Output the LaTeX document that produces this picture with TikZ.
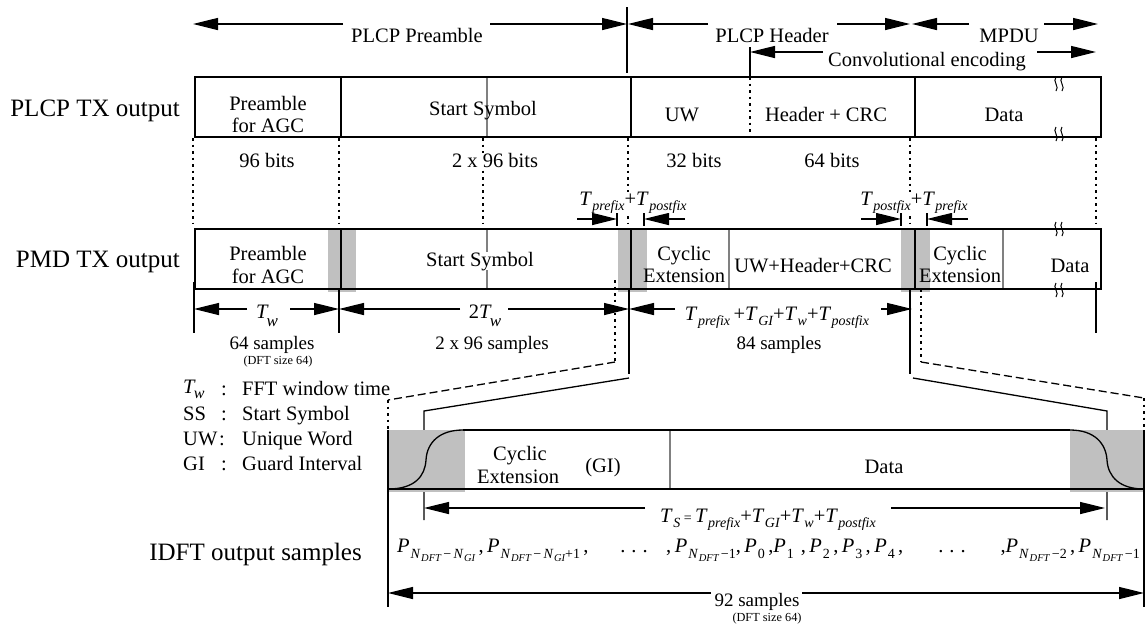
\documentclass[tikz,border=0pt]{standalone}
\usepackage{fontspec}
\setmainfont{Liberation Serif}
\usetikzlibrary{arrows.meta}
\definecolor{shadegray}{HTML}{C0C0C0}
\definecolor{divg}{HTML}{808080}
\newcommand\subl[1]{\raisebox{-5pt}{\fontsize{14}{14}\selectfont\itshape #1}}
\newcommand\ssubl[1]{\raisebox{-3pt}{\fontsize{10.5}{10.5}\selectfont\itshape #1}}
\newcommand\Tx[1]{\textit{T}\kern0.5pt\subl{#1}}
\newcommand\Tww{\textit{T}\kern-2pt\raisebox{-8pt}{\fontsize{17}{17}\selectfont\itshape w}}
\newcommand\Twl{\textit{T}\kern-2pt\raisebox{-5pt}{\fontsize{16}{16}\selectfont\itshape w}}
\newcommand\Pn[1]{\textit{P}\kern1pt\raisebox{-6pt}{\fontsize{14}{14}\selectfont #1}}
\newcommand\NDft{\textit{N}\kern0.5pt\ssubl{DFT}}
\newcommand\NGi{\textit{N}\kern0.5pt\ssubl{GI}}
\begin{document}
\begin{tikzpicture}[x=1pt,y=-1pt,
  txt/.style={font=\fontsize{20.5}{23}\selectfont, inner sep=0pt, anchor=base},
  smp/.style={font=\fontsize{19}{22}\selectfont, inner sep=0pt, anchor=base},
  big/.style={font=\fontsize{25}{28}\selectfont, inner sep=0pt, anchor=base east},
  small/.style={font=\fontsize{12.3}{14}\selectfont, inner sep=0pt, anchor=base},
  arr/.style={-{Triangle[length=25pt,width=12pt]}, line width=1.3pt},
  ln/.style={line width=1.3pt},
  boxl/.style={line width=1.6pt},
  gdiv/.style={line width=1.8pt, draw=divg},
  dotl/.style={line width=1.3pt, dash pattern=on 2.5pt off 4pt},
  dashl/.style={line width=1.3pt, dash pattern=on 8pt off 4pt},
  grayfill/.style={fill=shadegray, draw=none},
  brkm/.pic={\draw[line width=1pt] (-4,-7) .. controls (-8,-3) and (0,3) .. (-4,7);
             \draw[line width=1pt] (2,-7) .. controls (-2,-3) and (6,3) .. (2,7);}]
\useasboundingbox (0,0) rectangle (1146,625);

% ---------- top arrows ----------
\coordinate (pA) at (193,24); \coordinate (pAg) at (343,24);
\coordinate (pBg) at (490,24); \coordinate (pB) at (627,24);
\draw[arr] (pAg) -- (pA); \draw[arr] (pBg) -- (pB);
\node[txt] (tPre) at (417,42) {PLCP Preamble};
\coordinate (vT) at (627,7); \coordinate (vB) at (627,73);
\draw[ln] (vT) -- (vB);
\coordinate (hA) at (628,24); \coordinate (hAg) at (708,24);
\coordinate (hBg) at (837,24); \coordinate (hB) at (910,24);
\draw[arr] (hAg) -- (hA); \draw[arr] (hBg) -- (hB);
\node[txt] (tHdr) at (772,42) {PLCP Header};
\coordinate (mA) at (912,24); \coordinate (mAg) at (969,24);
\coordinate (mBg) at (1044,24); \coordinate (mB) at (1098,24);
\draw[arr] (mAg) -- (mA); \draw[arr] (mBg) -- (mB);
\node[txt] (tMpdu) at (1009,42) {MPDU};
\coordinate (cA) at (750,52); \coordinate (cAg) at (823,52);
\coordinate (cBg) at (1037,52); \coordinate (cB) at (1096,52);
\coordinate (cT) at (750,47); \coordinate (cTb) at (750,77);
\draw[arr] (cAg) -- (cA); \draw[arr] (cBg) -- (cB); \draw[ln] (cT) -- (cTb);
\node[txt] (tConv) at (927,66) {Convolutional encoding};

% ---------- PLCP TX output ----------
\node[big] (lPlcp) at (180,116) {PLCP TX output};
\coordinate (g1t) at (487,77); \coordinate (g1b) at (487,138);
\draw[gdiv] (g1t) -- (g1b);
\coordinate (P1nw) at (195,77); \coordinate (P1se) at (1101,137);
\draw[boxl] (P1nw) rectangle (P1se);
\coordinate (d1t) at (341,77); \coordinate (d1b) at (341,137);
\coordinate (d2t) at (631,77); \coordinate (d2b) at (631,137);
\coordinate (d3t) at (915,77); \coordinate (d3b) at (915,137);
\draw[boxl] (d1t) -- (d1b); \draw[boxl] (d2t) -- (d2b); \draw[boxl] (d3t) -- (d3b);
\coordinate (d4t) at (750,77); \coordinate (d4b) at (750,137);
\draw[dotl] (d4t) -- (d4b);
\pic at (1060,84) {brkm}; \pic at (1060,134) {brkm};
\node[txt] (a1) at (268,110) {Preamble};
\node[txt] (a2) at (268,132) {for AGC};
\node[txt] (a3) at (483,115) {Start Symbol};
\node[txt] (a4) at (682,121) {UW};
\node[txt] (a5) at (826,121) {Header + CRC};
\node[txt] (a6) at (1004,121) {Data};
\foreach \x/\n in {193/q1,339/q2,483/q3,628/q4,910/q5,1096/q6}{
  \coordinate (\n t) at (\x,138); \coordinate (\n b) at (\x,223);
  \draw[dotl] (\n t) -- (\n b);}
\node[txt] (b1) at (267,167) {96 bits};
\node[txt, fill=white] (b2) at (495,167) {2 x 96 bits};
\node[txt] (b3) at (694,167) {32 bits};
\node[txt] (b4) at (832,167) {64 bits};

% ---------- small arrows above PMD ----------
\coordinate (s1a) at (577,219); \coordinate (s1b) at (617,219);
\coordinate (s2a) at (685,219); \coordinate (s2b) at (644,219);
\draw[arr] (s1a) -- (s1b); \draw[arr] (s2a) -- (s2b);
\coordinate (k1t) at (617,212); \coordinate (k1b) at (617,226);
\coordinate (k2t) at (644,212); \coordinate (k2b) at (644,226);
\draw[ln] (k1t) -- (k1b); \draw[ln] (k2t) -- (k2b);
\node[txt, fill=white] (tpp1) at (633,205) {\Tx{prefix}+\Tx{postfix}};
\coordinate (t1a) at (861,219); \coordinate (t1b) at (901,219);
\coordinate (t2a) at (968,219); \coordinate (t2b) at (927,219);
\draw[arr] (t1a) -- (t1b); \draw[arr] (t2a) -- (t2b);
\coordinate (k3t) at (901,212); \coordinate (k3b) at (901,226);
\coordinate (k4t) at (927,212); \coordinate (k4b) at (927,226);
\draw[ln] (k3t) -- (k3b); \draw[ln] (k4t) -- (k4b);
\node[txt, fill=white] (tpp2) at (914,205) {\Tx{postfix}+\Tx{prefix}};

% ---------- PMD TX output ----------
\node[big] (lPmd) at (180,267) {PMD TX output};
\foreach \a/\b/\n in {328/356/h1,618/647/h2,901/930/h3}{
  \coordinate (\n a) at (\a,229); \coordinate (\n b) at (\b,292);
  \fill[grayfill] (\n a) rectangle (\n b);}
\foreach \x/\n in {487/e1,729/e2,1003/e3}{
  \coordinate (\n t) at (\x,229); \coordinate (\n b) at (\x,289);
  \draw[gdiv] (\n t) -- (\n b);}
\coordinate (P2nw) at (195,229); \coordinate (P2se) at (1101,289);
\draw[boxl] (P2nw) rectangle (P2se);
\foreach \x/\n in {341/f1,631/f2,915/f3}{
  \coordinate (\n t) at (\x,229); \coordinate (\n b) at (\x,289);
  \draw[boxl] (\n t) -- (\n b);}
\pic at (1060,229) {brkm}; \pic at (1060,290) {brkm};
\node[txt] (c1) at (268,260) {Preamble};
\node[txt] (c2) at (268,283) {for AGC};
\node[txt, fill=white] (c3) at (480,266) {Start Symbol};
\node[txt] (c4) at (684,260) {Cyclic};
\node[txt] (c5) at (684,282) {Extension};
\node[txt] (c6) at (813,272) {UW+Header+CRC};
\node[txt] (c7) at (960,260) {Cyclic};
\node[txt] (c8) at (960,282) {Extension};
\node[txt] (c9) at (1070,272) {Data};

% ---------- dimension row ----------
\coordinate (m1t) at (194,282); \coordinate (m1b) at (194,333);
\coordinate (m2t) at (339,289); \coordinate (m2b) at (339,333);
\coordinate (m3t) at (1096,282); \coordinate (m3b) at (1096,333);
\draw[ln] (m1t) -- (m1b); \draw[ln] (m2t) -- (m2b); \draw[ln] (m3t) -- (m3b);
\coordinate (w1) at (194,309); \coordinate (w1g) at (247,309);
\coordinate (w2g) at (290,309); \coordinate (w2) at (339,309);
\draw[arr] (w1g) -- (w1); \draw[arr] (w2g) -- (w2);
\node[txt] (tw) at (267,318) {\Tww};
\coordinate (x1) at (339,309); \coordinate (x1g) at (460,309);
\coordinate (x2g) at (508,309); \coordinate (x2) at (629,309);
\draw[arr] (x1g) -- (x1); \draw[arr] (x2g) -- (x2);
\node[txt] (t2w) at (485,318) {2\Tww};
\coordinate (y1) at (629,309); \coordinate (y1g) at (675,309);
\coordinate (y2g) at (881,309); \coordinate (y2) at (912,309);
\draw[arr] (y1g) -- (y1); \draw[arr] (y2g) -- (y2);
\node[txt] (tsum) at (777,320) {\Tx{prefix}\,+\Tx{GI}+\Tx{w}+\Tx{postfix}};
\node[smp] (n64) at (272,349) {64 samples};
\node[small] (dft1) at (278,364) {(DFT size 64)};
\node[smp] (n192) at (492,349) {2 x 96 samples};
\node[smp] (n84) at (779,349) {84 samples};

% ---------- zoom lines ----------
\coordinate (zl1) at (629,289); \coordinate (zl2) at (629,374);
\coordinate (zl3) at (629,378); \coordinate (zl4) at (424,411); \coordinate (zl5) at (424,520);
\draw[ln] (zl1) -- (zl2); \draw[ln] (zl3) -- (zl4) -- (zl5);
\coordinate (zr1) at (910,289); \coordinate (zr2) at (910,374);
\coordinate (zr3) at (913,378); \coordinate (zr4) at (1107,411); \coordinate (zr5) at (1107,520);
\draw[ln] (zr1) -- (zr2); \draw[ln] (zr3) -- (zr4) -- (zr5);
\coordinate (ol1) at (615,280); \coordinate (ol2) at (615,362);
\coordinate (ol3) at (388,400); \coordinate (ol4) at (388,430); \coordinate (ol5) at (388,607);
\draw[dotl] (ol1) -- (ol2); \draw[dashl] (ol2) -- (ol3); \draw[dotl] (ol3) -- (ol4);
\coordinate (or1) at (921,289); \coordinate (or2) at (921,362);
\coordinate (or3) at (1144,398); \coordinate (or4) at (1144,430); \coordinate (or5) at (1144,607);
\draw[dotl] (or1) -- (or2); \draw[dashl] (or2) -- (or3); \draw[dotl] (or3) -- (or4);

% ---------- legend ----------
\node[txt, anchor=base west] (L1) at (183,393) {\Twl};
\node[txt] (L1c) at (224,395) {:};
\node[txt, anchor=base west] (L1t) at (242,395) {FFT window time};
\node[txt, anchor=base west] (L2) at (183,420) {SS};
\node[txt] (L2c) at (224,420) {:};
\node[txt, anchor=base west] (L2t) at (242,420) {Start Symbol};
\node[txt, anchor=base west] (L3) at (183,445) {UW};
\node[txt] (L3c) at (222,445) {:};
\node[txt, anchor=base west] (L3t) at (242,445) {Unique Word};
\node[txt, anchor=base west] (L4) at (183,470) {GI};
\node[txt] (L4c) at (224,470) {:};
\node[txt, anchor=base west] (L4t) at (242,470) {Guard Interval};

% ---------- IDFT block ----------
\coordinate (s1nw) at (388,430); \coordinate (s1se) at (465,492);
\coordinate (s2nw) at (1070,430); \coordinate (s2se) at (1144,492);
\fill[grayfill] (s1nw) rectangle (s1se); \fill[grayfill] (s2nw) rectangle (s2se);
\coordinate (gd1) at (670,430); \coordinate (gd2) at (670,489);
\draw[gdiv] (gd1) -- (gd2);
\coordinate (bt1) at (463,430); \coordinate (bt2) at (1070,430);
\coordinate (bb1) at (388,489); \coordinate (bb2) at (1144,489);
\draw[boxl] (bt1) -- (bt2); \draw[boxl] (bb1) -- (bb2);
\draw[ln] (ol4) -- (ol5); \draw[ln] (or4) -- (or5);
\draw[ln] (bb1) .. controls (415,489) and (425,476) .. (426,460)
                .. controls (427,442) and (440,430) .. (bt1);
\draw[ln] (bt2) .. controls (1095,430) and (1106,444) .. (1107,460)
                .. controls (1108,477) and (1120,489) .. (bb2);
\node[txt] (e1) at (520,460) {Cyclic};
\node[txt] (e2) at (518,483) {Extension};
\node[txt] (e3) at (603,472) {(GI)};
\node[txt] (e4) at (884,473) {Data};
\coordinate (ts1) at (424,508); \coordinate (ts1g) at (645,508);
\coordinate (ts2g) at (891,508); \coordinate (ts2) at (1105,508);
\draw[arr] (ts1g) -- (ts1); \draw[arr] (ts2g) -- (ts2);
\node[txt] (tts) at (768,522) {\Tx{S}\,{\fontsize{14}{14}\selectfont =}\,\Tx{prefix}+\Tx{GI}+\Tx{w}+\Tx{postfix}};

\node[big] (lIdft) at (362,560) {IDFT output samples};
\node[txt, anchor=base west] (pr1) at (397,552) {\Pn{\NDft\,−\,\NGi}\,,\,\Pn{\NDft\,−\,\NGi+1}\,,};
\node[txt] (pr2) at (634,552) {.\hspace{6pt}.\hspace{6pt}.};
\node[txt, anchor=base west] (pr3) at (666,552) {,\,\Pn{\NDft\,−1},\,\Pn{0}\,,\Pn{1}\,\,,\,\Pn{2}\,,\,\Pn{3}\,,\,\Pn{4}\,,};
\node[txt] (pr4) at (952,552) {.\hspace{6pt}.\hspace{6pt}.};
\node[txt, anchor=base east] (pr5) at (1140,552) {,\Pn{\NDft\,−2}\,,\,\Pn{\NDft\,−1}};

\coordinate (n1) at (388,593); \coordinate (n1g) at (711,593);
\coordinate (n2g) at (802,593); \coordinate (n2) at (1144,593);
\draw[arr] (n1g) -- (n1); \draw[arr] (n2g) -- (n2);
\node[smp] (n92) at (757,606) {92 samples};
\node[small] (dft2) at (767,621) {(DFT size 64)};
\end{tikzpicture}
\end{document}
